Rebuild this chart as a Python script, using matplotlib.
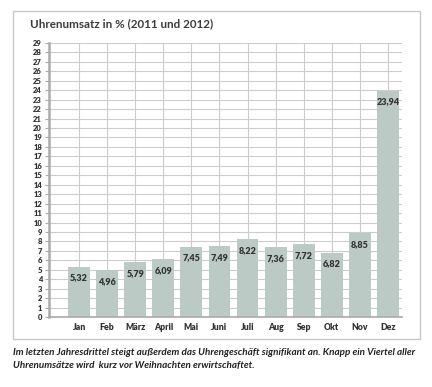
import matplotlib.pyplot as plt
from matplotlib.patches import Rectangle

# monthly share of watch sales in percent
months = ["Jan", "Feb", "März", "April", "Mai", "Juni", "Juli", "Aug", "Sep", "Okt", "Nov", "Dez"]
shares = [5.32, 4.96, 5.79, 6.09, 7.45, 7.49, 8.22, 7.36, 7.72, 6.82, 8.85, 23.94]
y_ticks = list(range(0, 30))

title = "Uhrenumsatz in % (2011 und 2012)"
caption = ("Im letzten Jahresdrittel steigt außerdem das Uhrengeschäft signifikant an. Knapp ein Viertel aller\n"
           "Uhrenumsätze wird  kurz vor Weihnachten erwirtschaftet.")

bar_color = "#bccac5"
text_color = "#333333"
grid_color = "#cccccc"

plt.rcParams["font.family"] = ["Lato", "DejaVu Sans"]

fig = plt.figure(figsize=(4.32, 3.87), dpi=100)
W, H = 432, 387

# outer frame around the chart
fig.patches.append(Rectangle((13 / W, 1 - 339 / H), (420 - 13) / W, (339 - 11) / H,
                             transform=fig.transFigure, fill=False,
                             edgecolor="#c8c8c8", linewidth=1.0))

fig.text(30 / W, 1 - 24 / H, title, fontsize=8.4, color="#3c3c3c",
         fontweight="bold", va="center", ha="left")

ax = fig.add_axes([49 / W, 1 - 317 / H, (402 - 49) / W, (317 - 43) / H])
x = list(range(len(months)))
ax.bar(x, shares, width=0.78, color=bar_color, zorder=2)

for xi, v in zip(x, shares):
    ax.annotate(f"{v:.2f}".replace(".", ","), (xi, v), xytext=(0, -8),
                textcoords="offset points", ha="center", va="center",
                fontsize=6.5, fontweight="heavy", color=text_color, zorder=3)

ax.set_xlim(-1.07, 11.5)
ax.set_ylim(0, 29)
ax.set_yticks(y_ticks)
ax.set_xticks(x)
ax.set_xticklabels(months)
ax.tick_params(axis="y", labelsize=5.5, length=3, width=0.8, color="#aaaaaa",
               labelcolor=text_color, pad=2)
ax.tick_params(axis="x", labelsize=6.2, length=0, labelcolor=text_color, pad=4)
for lab in ax.get_xticklabels() + ax.get_yticklabels():
    lab.set_fontweight("heavy")

ax.grid(True, color=grid_color, linewidth=0.8, zorder=0)
ax.set_axisbelow(True)
for side in ["top", "right"]:
    ax.spines[side].set_visible(False)
ax.spines["left"].set_color("#aaaaaa")
ax.spines["left"].set_linewidth(1.8)
ax.spines["bottom"].set_color("#aaaaaa")
ax.spines["bottom"].set_linewidth(1.2)

fig.text(13 / W, 1 - 359 / H, caption, fontsize=7.1, color="#222222",
         fontweight="bold", style="italic", va="center", ha="left", linespacing=1.45)

fig.savefig("out.png", dpi=100)
